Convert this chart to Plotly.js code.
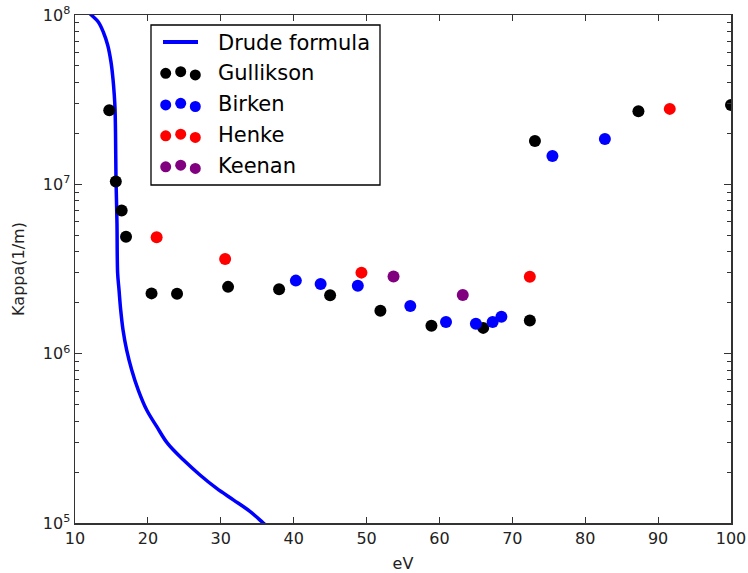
<!DOCTYPE html>
<html>
<head>
<meta charset="utf-8">
<script src="https://cdn.plot.ly/plotly-3.0.1.min.js"></script>
<style>html,body{margin:0;padding:0;background:#fff;}#chart{width:748px;height:573px;}</style>
</head>
<body>
<div id="chart"></div>
<script>
// ---- data ----
var drudeX = [11.5, 12.25, 13.2, 13.88, 14.49, 14.94, 15.21, 15.39, 15.49, 15.56, 15.62, 15.69, 15.76, 15.85, 16.04, 16.27, 16.59, 17.09, 17.78, 18.68, 19.84, 21.2, 22.7, 24.86, 27.15, 29.44, 31.72, 34.0, 35.84, 36.6];
var drudeY = [1.07e8, 1.0e8, 9.1e7, 7.94e7, 6.63e7, 5.27e7, 4.2e7, 3.36e7, 2.8e7, 2.0e7, 1.11e7, 8.1e6, 5.89e6, 2.99e6, 2.38e6, 1.81e6, 1.38e6, 1.05e6, 8.02e5, 6.1e5, 4.65e5, 3.72e5, 2.95e5, 2.36e5, 1.92e5, 1.6e5, 1.37e5, 1.17e5, 1.0e5, 9.4e4];

var gullX = [14.7, 15.6, 16.4, 17.0, 20.5, 24.0, 31.0, 38.0, 45.0, 51.9, 58.9, 66.0, 72.4, 73.1, 87.3, 100];
var gullY = [2.74e7, 1.04e7, 7.0e6, 4.9e6, 2.27e6, 2.26e6, 2.48e6, 2.40e6, 2.21e6, 1.79e6, 1.46e6, 1.42e6, 1.57e6, 1.80e7, 2.70e7, 2.94e7];

var birkX = [40.3, 43.7, 48.8, 56.0, 60.9, 65.0, 67.3, 68.5, 75.5, 82.7];
var birkY = [2.70e6, 2.58e6, 2.52e6, 1.91e6, 1.54e6, 1.50e6, 1.54e6, 1.65e6, 1.47e7, 1.85e7];

var henkeX = [21.2, 30.6, 49.3, 72.4, 91.6];
var henkeY = [4.87e6, 3.62e6, 3.01e6, 2.85e6, 2.79e7];

var keenX = [53.7, 63.2];
var keenY = [2.86e6, 2.22e6];

var seriesNames = ["Drude formula", "Gullikson", "Birken", "Henke", "Keenan"];
var seriesColors = ["#0000ff", "#000000", "#0000ff", "#ff0000", "#800080"];

var xTickVals = [10, 20, 30, 40, 50, 60, 70, 80, 90, 100];
var yTickVals = [1e5, 1e6, 1e7, 1e8];
var yTickText = ["10<sup>5</sup>", "10<sup>6</sup>", "10<sup>7</sup>", "10<sup>8</sup>"];
var yMinorVals = [2e5,3e5,4e5,5e5,6e5,7e5,8e5,9e5,2e6,3e6,4e6,5e6,6e6,7e6,8e6,9e6,2e7,3e7,4e7,5e7,6e7,7e7,8e7,9e7];

// ---- layout helpers (pixel -> paper) ----
var L = 75, R = 731, T = 15, B = 523;
function px(x){ return (x - L) / (R - L); }
function py(y){ return (B - y) / (B - T); }

var FONT = "DejaVu Sans, Liberation Sans, sans-serif";

function scatterTrace(x, y, i){
  return {x: x, y: y, type: 'scatter', mode: 'markers', name: seriesNames[i],
    marker: {color: seriesColors[i], size: 12, line: {width: 0}}, cliponaxis: true, hoverinfo: 'x+y'};
}

var traces = [
  {x: drudeX, y: drudeY, type: 'scatter', mode: 'lines', name: seriesNames[0],
   line: {color: seriesColors[0], width: 3.5, shape: 'spline', smoothing: 1}},
  scatterTrace(gullX, gullY, 1),
  scatterTrace(birkX, birkY, 2),
  scatterTrace(henkeX, henkeY, 3),
  scatterTrace(keenX, keenY, 4)
];

// matplotlib-style legend
var shapes = [
  {type: 'rect', xref: 'paper', yref: 'paper', x0: px(151), x1: px(380), y0: py(185), y1: py(25),
   line: {color: '#000', width: 1.3}, fillcolor: '#fff', layer: 'above'},
  {type: 'line', xref: 'paper', yref: 'paper', x0: px(163), x1: px(198), y0: py(42), y1: py(42),
   line: {color: seriesColors[0], width: 4}, layer: 'above'}
];
var annotations = [];
var rowY = [42, 71.7, 103.3, 134.2, 165.2];
var dotDX = [165.7, 180.7, 195.3];
var dotDY = [1.6, 0, 3.2];
for (var i = 1; i < 5; i++){
  for (var k = 0; k < 3; k++){
    var cx = px(dotDX[k]), cy = py(rowY[i] + dotDY[k]);
    shapes.push({type: 'circle', xref: 'paper', yref: 'paper', xsizemode: 'pixel', ysizemode: 'pixel',
      xanchor: cx, yanchor: cy, x0: -5.5, x1: 5.5, y0: -5.5, y1: 5.5,
      fillcolor: seriesColors[i], line: {width: 0}, layer: 'above'});
  }
}
for (var j = 0; j < 5; j++){
  annotations.push({xref: 'paper', yref: 'paper', x: px(216), y: py(rowY[j] + 1), xanchor: 'left', yanchor: 'middle',
    text: seriesNames[j], showarrow: false, font: {family: FONT, size: 21, color: '#000'}});
}

var layout = {
  width: 748, height: 573,
  margin: {l: L, r: 748 - R, t: T, b: 573 - B},
  paper_bgcolor: '#fff', plot_bgcolor: '#fff',
  showlegend: false,
  font: {family: FONT, size: 16, color: '#000'},
  xaxis: {
    range: [10, 100], tickmode: 'array', tickvals: xTickVals,
    ticks: 'inside', ticklen: 6, tickwidth: 1, tickcolor: '#333',
    showline: true, linecolor: '#333', linewidth: 1.5, mirror: 'ticks',
    showgrid: false, zeroline: false,
    tickfont: {family: FONT, size: 16, color: '#222'},
    title: {text: 'eV', font: {family: FONT, size: 16, color: '#222'}, standoff: 12}
  },
  yaxis: {
    type: 'log', range: [5, 8], tickmode: 'array', tickvals: yTickVals, ticktext: yTickText,
    ticks: 'inside', ticklen: 7, tickwidth: 1, tickcolor: '#333',
    minor: {tickmode: 'array', tickvals: yMinorVals, ticks: 'inside', ticklen: 4, tickwidth: 1, tickcolor: '#333', showgrid: false},
    showline: true, linecolor: '#333', linewidth: 1.5, mirror: 'ticks',
    showgrid: false, zeroline: false,
    tickfont: {family: FONT, size: 16, color: '#222'},
    title: {text: 'Kappa(1/m)', font: {family: FONT, size: 16, color: '#222'}, standoff: 14}
  },
  shapes: shapes,
  annotations: annotations
};

Plotly.newPlot('chart', traces, layout, {displayModeBar: false, staticPlot: true});
</script>
</body>
</html>
